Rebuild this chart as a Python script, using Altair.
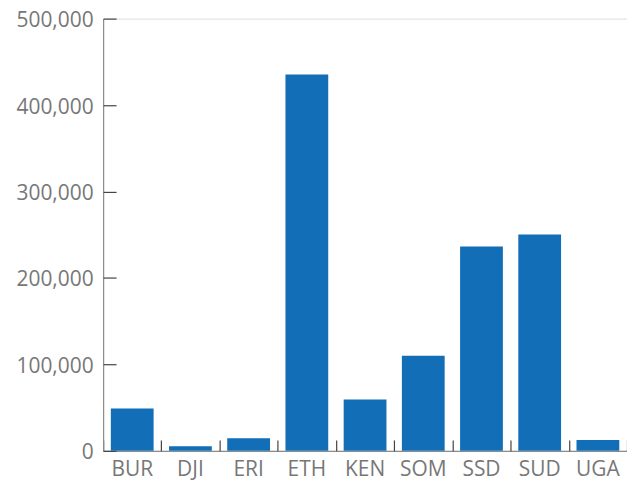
import altair as alt
import pandas as pd

countries = ["BUR", "DJI", "ERI", "ETH", "KEN", "SOM", "SSD", "SUD", "UGA"]
values = [49100, 5400, 14600, 435300, 59400, 110000, 236400, 250200, 12700]
y_ticks = [0, 100000, 200000, 300000, 400000, 500000]

df = pd.DataFrame({"country": countries, "value": values})

W, H = 526, 434
FONT = "Open Sans"
LABEL_COLOR = "#777777"

y_scale = alt.Scale(domain=[0, 500000], nice=False)

bars = alt.Chart(df).mark_bar(color="#116eb7").encode(
    x=alt.X("country:N", sort=countries,
            scale=alt.Scale(paddingInner=0.265, paddingOuter=0.1325), title=None,
            axis=alt.Axis(orient="bottom", labelAngle=0, ticks=False, tickSize=0,
                          domainColor="#8c8c8c", domainWidth=1.2,
                          labelFont=FONT, labelFontSize=21, labelColor=LABEL_COLOR,
                          labelPadding=8, grid=False)),
    y=alt.Y("value:Q", scale=y_scale, title=None,
            axis=alt.Axis(orient="left", values=y_ticks, format=",d", ticks=False, tickSize=0,
                          domainColor="#8c8c8c", domainWidth=1.2,
                          labelFont=FONT, labelFontSize=21, labelColor=LABEL_COLOR,
                          labelPadding=10, labelOffset=2, grid=False)),
)

tick_layer = alt.Chart(df).mark_bar(opacity=0).encode(
    x=alt.X("country:N", sort=countries,
            scale=alt.Scale(paddingInner=0, paddingOuter=0), title=None,
            axis=alt.Axis(orient="top", offset=-H, labels=False, domain=False,
                          ticks=True, tickBand="extent", tickSize=11,
                          tickColor="#444444", tickWidth=1.2, grid=False)),
    y=alt.Y("value:Q", scale=y_scale, title=None,
            axis=alt.Axis(orient="right", offset=-W, labels=False, domain=False,
                          values=y_ticks, ticks=True, tickSize=13,
                          tickColor="#444444", tickWidth=1.2, grid=False)),
)

chart = alt.layer(bars, tick_layer).resolve_scale(
    x="independent"
).resolve_axis(
    x="independent", y="independent"
).properties(
    width=W, height=H,
    autosize=alt.AutoSizeParams(type="none"),
    padding={"left": 95.5, "top": 9.7, "right": 0, "bottom": 30},
).configure_view(stroke=None).configure(background="white")

chart.save("out.html", embed_options={"renderer": "svg", "actions": False})
